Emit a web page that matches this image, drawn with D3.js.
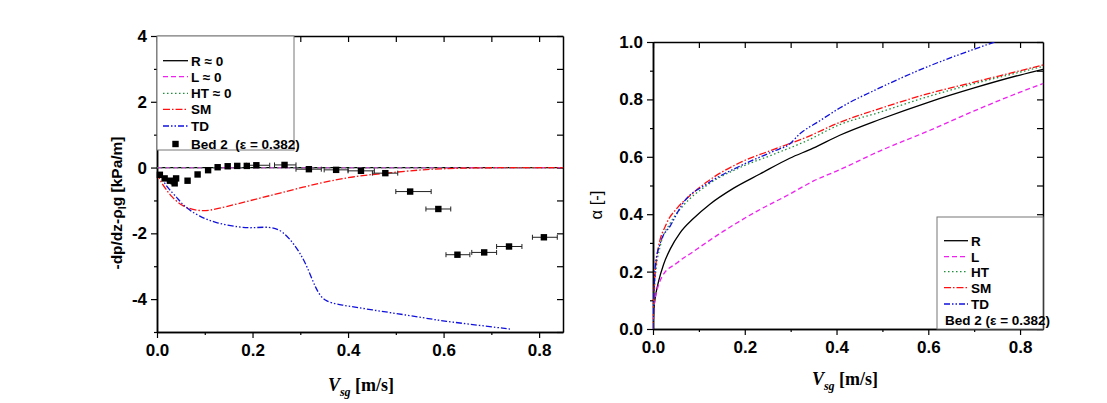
<!DOCTYPE html>
<html><head><meta charset="utf-8">
<script src="https://cdn.jsdelivr.net/npm/d3@7"></script>
<style>
body{margin:0;background:#fff;}
svg{display:block;}
</style></head>
<body>
<svg id="c" width="1107" height="403" font-family="Liberation Sans, Arial, sans-serif"></svg>
<script>
// ---------- DATA ----------
// Left panel: pressure gradient vs Vsg
const leftZeroX = [0, 0.85];            // R, L, HT ≈ 0
const leftZeroY = [0, 0];
const smLeftX = [0, 0.009, 0.02, 0.03, 0.054, 0.086, 0.11, 0.145, 0.194, 0.256, 0.34, 0.41, 0.48, 0.55, 0.59, 0.65, 0.75, 0.85];
const smLeftY = [-0.15, -0.47, -0.68, -0.88, -1.2, -1.32, -1.31, -1.19, -1.01, -0.78, -0.47, -0.27, -0.17, -0.07, -0.04, -0.01, 0, 0];
const tdLeftX = [0.004, 0.016, 0.033, 0.044, 0.058, 0.089, 0.124, 0.173, 0.2, 0.235, 0.263, 0.291, 0.312, 0.333, 0.35, 0.382, 0.451, 0.521, 0.591, 0.647, 0.739];
const tdLeftY = [-0.15, -0.5, -0.78, -0.95, -1.2, -1.49, -1.69, -1.82, -1.84, -1.79, -1.91, -2.40, -2.91, -3.72, -4.07, -4.17, -4.33, -4.48, -4.65, -4.75, -4.91];
const bedX = [0.006, 0.016, 0.027, 0.035, 0.040, 0.037, 0.064, 0.085, 0.107, 0.127, 0.148, 0.168, 0.188, 0.208, 0.267, 0.318, 0.375, 0.427, 0.478, 0.530, 0.589, 0.629, 0.685, 0.737, 0.810];
const bedY = [-0.22, -0.33, -0.40, -0.42, -0.33, -0.48, -0.40, -0.21, -0.08, 0.01, 0.04, 0.05, 0.05, 0.07, 0.08, -0.05, -0.07, -0.10, -0.17, -0.73, -1.26, -2.65, -2.58, -2.40, -2.12];
const bedXlo = [0.006, 0.016, 0.027, 0.035, 0.040, 0.037, 0.064, 0.085, 0.107, 0.127, 0.148, 0.168, 0.188, 0.187, 0.246, 0.291, 0.350, 0.400, 0.451, 0.500, 0.563, 0.605, 0.659, 0.711, 0.786];
const bedXhi = [0.006, 0.016, 0.027, 0.035, 0.040, 0.037, 0.064, 0.085, 0.107, 0.127, 0.148, 0.168, 0.188, 0.236, 0.291, 0.344, 0.400, 0.455, 0.504, 0.574, 0.615, 0.655, 0.711, 0.764, 0.838];

// Right panel: void fraction vs Vsg
const rX  = [0, 0.002, 0.005, 0.012, 0.023, 0.038, 0.059, 0.088, 0.124, 0.175, 0.233, 0.298, 0.349, 0.407, 0.494, 0.6, 0.7, 0.8, 0.85];
const rY  = [0, 0.07, 0.11, 0.165, 0.225, 0.28, 0.335, 0.385, 0.435, 0.49, 0.54, 0.595, 0.63, 0.675, 0.73, 0.79, 0.84, 0.885, 0.905];
const lX  = [0, 0.002, 0.005, 0.009, 0.02, 0.052, 0.088, 0.153, 0.226, 0.298, 0.349, 0.407, 0.494, 0.6, 0.7, 0.8, 0.85];
const lY  = [0, 0.07, 0.11, 0.137, 0.183, 0.23, 0.27, 0.34, 0.41, 0.47, 0.515, 0.555, 0.62, 0.69, 0.76, 0.825, 0.855];
const htX = [0, 0.002, 0.005, 0.016, 0.038, 0.066, 0.117, 0.19, 0.262, 0.334, 0.407, 0.494, 0.6, 0.7, 0.8, 0.85];
const htY = [0, 0.1, 0.18, 0.29, 0.37, 0.43, 0.50, 0.563, 0.608, 0.655, 0.712, 0.755, 0.81, 0.855, 0.895, 0.915];
const smX = [0, 0.002, 0.005, 0.009, 0.03, 0.052, 0.081, 0.117, 0.19, 0.262, 0.334, 0.407, 0.494, 0.6, 0.7, 0.8, 0.85];
const smY = [0, 0.12, 0.2, 0.26, 0.369, 0.42, 0.465, 0.512, 0.58, 0.625, 0.668, 0.72, 0.768, 0.82, 0.86, 0.9, 0.92];
const tdX = [0, 0.002, 0.005, 0.016, 0.038, 0.066, 0.117, 0.19, 0.262, 0.298, 0.32, 0.363, 0.407, 0.494, 0.6, 0.7, 0.745];
const tdY = [0, 0.12, 0.22, 0.30, 0.36, 0.44, 0.505, 0.568, 0.619, 0.645, 0.68, 0.725, 0.77, 0.84, 0.915, 0.975, 1.0];

const xTicks = [0, 0.2, 0.4, 0.6, 0.8];
const xMinor = [0.1, 0.3, 0.5, 0.7];
const leftYTicks = [-4, -2, 0, 2, 4];
const leftYMinor = [-5, -3, -1, 1, 3];
const rightYTicks = [0, 0.2, 0.4, 0.6, 0.8, 1.0];
const rightYMinor = [0.1, 0.3, 0.5, 0.7, 0.9];

const leftLegend = ["R \u2248 0", "L \u2248 0", "HT \u2248 0", "SM", "TD", "Bed 2\u00a0 (\u03b5 = 0.382)"];
const rightLegend = ["R", "L", "HT", "SM", "TD", "Bed 2 (\u03b5 = 0.382)"];

// ---------- STYLES ----------
const styles = {
  R:  {color: "#000000", dash: null},
  L:  {color: "#ee22ee", dash: "5,3"},
  HT: {color: "#1f8f3a", dash: "1.5,2.5"},
  SM: {color: "#ff1010", dash: "7,2,1.5,2"},
  TD: {color: "#1010dd", dash: "6,2,1.5,2,1.5,2"}
};
const keys = ["R", "L", "HT", "SM", "TD"];

const svg = d3.select("#c");
const zip = (xs, ys) => xs.map((x, i) => [x, ys[i]]);

function panel(opt) {
  const x = d3.scaleLinear().domain([0, 0.85]).range([opt.x0, opt.x1]);
  const y = d3.scaleLinear().domain(opt.yDom).range([opt.yBot, opt.yTop]);
  const g = svg.append("g");
  const clipId = "clip" + opt.id;
  svg.append("clipPath").attr("id", clipId).append("rect")
    .attr("x", opt.x0).attr("y", opt.yTop).attr("width", opt.x1 - opt.x0).attr("height", opt.yBot - opt.yTop);

  const fmtX = d3.format(".1f");
  g.append("g").attr("transform", `translate(0,${opt.yBot})`)
    .call(d3.axisBottom(x).tickValues(xTicks).tickFormat(fmtX).tickSizeInner(6).tickSizeOuter(0).tickPadding(6));
  g.append("g").attr("transform", `translate(0,${opt.yBot})`)
    .call(d3.axisBottom(x).tickValues(xMinor).tickFormat("").tickSizeInner(3).tickSizeOuter(0));
  g.append("g").attr("transform", `translate(0,${opt.yTop})`)
    .call(d3.axisBottom(x).tickValues(xTicks.concat(xMinor)).tickFormat("").tickSizeInner(6).tickSizeOuter(0));
  g.append("g").attr("transform", `translate(${opt.x0},0)`)
    .call(d3.axisLeft(y).tickValues(opt.yTicks).tickFormat(opt.fmtY).tickSizeInner(6).tickSizeOuter(0).tickPadding(4));
  g.append("g").attr("transform", `translate(${opt.x0},0)`)
    .call(d3.axisLeft(y).tickValues(opt.yMinor).tickFormat("").tickSizeInner(3).tickSizeOuter(0));
  g.append("g").attr("transform", `translate(${opt.x1},0)`)
    .call(d3.axisLeft(y).tickValues(opt.yTicks.concat(opt.yMinor)).tickFormat("").tickSizeInner(6).tickSizeOuter(0));

  g.selectAll(".domain").attr("stroke", "#000").attr("stroke-width", 1.5);
  g.selectAll(".tick line").attr("stroke", "#000").attr("stroke-width", 1.2);
  g.selectAll(".tick text").attr("font-family", "Liberation Sans, Arial, sans-serif")
    .attr("font-weight", "bold").attr("font-size", 17).attr("fill", "#000");
  return {x, y, g, clipId};
}

const P1 = panel({id: 1, x0: 157, x1: 563, yTop: 36, yBot: 332, yDom: [-5, 4],
  yTicks: leftYTicks, yMinor: leftYMinor, fmtY: d => String(d)});
const P2 = panel({id: 2, x0: 653, x1: 1043, yTop: 42, yBot: 329, yDom: [0, 1],
  yTicks: rightYTicks, yMinor: rightYMinor, fmtY: d3.format(".1f")});

function drawLine(P, pts, key, curve) {
  const line = d3.line().x(d => P.x(d[0])).y(d => P.y(d[1])).curve(curve || d3.curveMonotoneX);
  P.g.append("path").datum(pts).attr("d", line)
    .attr("clip-path", `url(#${P.clipId})`)
    .attr("fill", "none").attr("stroke", styles[key].color).attr("stroke-width", 1.3)
    .attr("stroke-dasharray", styles[key].dash);
}

drawLine(P1, zip(leftZeroX, leftZeroY), "R", d3.curveLinear);
drawLine(P1, zip(leftZeroX, leftZeroY), "L", d3.curveLinear);
drawLine(P1, zip(leftZeroX, leftZeroY), "HT", d3.curveLinear);
drawLine(P1, zip(smLeftX, smLeftY), "SM", d3.curveBasis);
drawLine(P1, zip(tdLeftX, tdLeftY), "TD", d3.curveBasis);

const eb = P1.g.append("g");
bedX.forEach((vx, i) => {
  if (bedXhi[i] - bedXlo[i] > 0.005) {
    const yy = P1.y(bedY[i]);
    eb.append("line").attr("x1", P1.x(bedXlo[i])).attr("x2", P1.x(bedXhi[i]))
      .attr("y1", yy).attr("y2", yy).attr("stroke", "#222").attr("stroke-width", 1);
    [bedXlo[i], bedXhi[i]].forEach(e => {
      eb.append("line").attr("x1", P1.x(e)).attr("x2", P1.x(e))
        .attr("y1", yy - 2.5).attr("y2", yy + 2.5).attr("stroke", "#222").attr("stroke-width", 1);
    });
  }
});
P1.g.append("g").selectAll("rect").data(zip(bedX, bedY)).join("rect")
  .attr("x", d => P1.x(d[0]) - 3.2).attr("y", d => P1.y(d[1]) - 3.2)
  .attr("width", 6.4).attr("height", 6.4).attr("fill", "#000");

drawLine(P2, zip(rX, rY), "R");
drawLine(P2, zip(lX, lY), "L");
drawLine(P2, zip(htX, htY), "HT");
drawLine(P2, zip(smX, smY), "SM");
drawLine(P2, zip(tdX, tdY), "TD");

function legend(box, rows, labels, lineX0, lineX1, textX, markerRow) {
  svg.append("rect").attr("x", box[0]).attr("y", box[1]).attr("width", box[2]).attr("height", box[3])
    .attr("fill", "#fff").attr("stroke", "#777").attr("stroke-width", 1);
  labels.forEach((lab, i) => {
    const yy = rows[i];
    if (i < 5) {
      const k = keys[i];
      svg.append("line").attr("x1", lineX0).attr("x2", lineX1).attr("y1", yy).attr("y2", yy)
        .attr("stroke", styles[k].color).attr("stroke-width", 1.3).attr("stroke-dasharray", styles[k].dash);
      svg.append("text").attr("x", textX).attr("y", yy + 5).text(lab)
        .attr("font-weight", "bold").attr("font-size", 13.5).attr("fill", "#000");
    } else if (markerRow) {
      svg.append("rect").attr("x", (lineX0 + lineX1) / 2 - 3.2).attr("y", yy - 3.2)
        .attr("width", 6.4).attr("height", 6.4).attr("fill", "#000");
      svg.append("text").attr("x", textX).attr("y", yy + 5).text(lab)
        .attr("font-weight", "bold").attr("font-size", 13.5).attr("fill", "#000");
    } else {
      svg.append("text").attr("x", lineX0 + 1).attr("y", yy + 5).text(lab)
        .attr("font-weight", "bold").attr("font-size", 13.5).attr("fill", "#000");
    }
  });
}
legend([157, 36, 137, 114], [60.7, 76.7, 93.3, 109.3, 126, 144], leftLegend, 163, 188, 191, true);
legend([937, 217, 106, 112], [240.7, 256.7, 271.7, 287.7, 304, 319.5], rightLegend, 944, 968, 971, false);

const yl = svg.append("text").attr("transform", "translate(122,203) rotate(-90)")
  .attr("text-anchor", "middle").attr("font-weight", "bold").attr("font-size", 15.5).attr("fill", "#000");
yl.append("tspan").text("-dp/dz-\u03c1");
yl.append("tspan").attr("font-size", 10.5).attr("dy", 4).text("l");
yl.append("tspan").attr("dy", -4).text("g [kPa/m]");

svg.append("text").attr("transform", "translate(602,205) rotate(-90)")
  .attr("text-anchor", "middle").attr("font-size", 16.5).attr("fill", "#000")
  .text("\u03b1 [-]");

function xTitle(cx, by) {
  const t = svg.append("text").attr("x", cx).attr("y", by).attr("text-anchor", "middle")
    .attr("font-family", "Liberation Serif, Times New Roman, serif").attr("font-weight", "bold")
    .attr("font-size", 18).attr("fill", "#000");
  t.append("tspan").attr("font-style", "italic").text("V");
  t.append("tspan").attr("font-style", "italic").attr("font-size", 12).attr("dy", 5).text("sg");
  t.append("tspan").attr("dy", -5).text(" [m/s]");
}
xTitle(361, 391);
xTitle(845, 385);
</script>
</body></html>
